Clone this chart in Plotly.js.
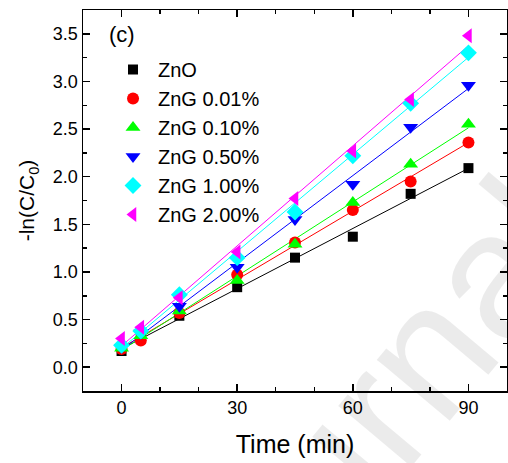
<!DOCTYPE html>
<html>
<head>
<meta charset="utf-8">
<script src="https://cdn.plot.ly/plotly-3.0.1.min.js"></script>
<style>
html,body{margin:0;padding:0;background:#fff;}
#chart{width:508px;height:463px;}
</style>
</head>
<body>
<div id="chart"></div>
<script>
const time = [0, 5, 15, 30, 45, 60, 75, 90];
const seriesNames = ["ZnO", "ZnG 0.01%", "ZnG 0.10%", "ZnG 0.50%", "ZnG 1.00%", "ZnG 2.00%"];
const znO    = [0.17, 0.30, 0.54, 0.84, 1.15, 1.37, 1.82, 2.09];
const znG001 = [0.19, 0.28, 0.57, 0.97, 1.31, 1.65, 1.95, 2.36];
const znG010 = [0.20, 0.33, 0.59, 0.91, 1.29, 1.73, 2.13, 2.55];
const znG050 = [0.21, 0.36, 0.64, 1.05, 1.55, 1.92, 2.52, 2.96];
const znG100 = [0.23, 0.38, 0.76, 1.15, 1.63, 2.22, 2.77, 3.30];
const znG200 = [0.30, 0.42, 0.73, 1.21, 1.77, 2.27, 2.81, 3.48];
const seriesValues = [znO, znG001, znG010, znG050, znG100, znG200];
const colors = ["#000000", "#FF0000", "#00FF00", "#0000FF", "#00FFFF", "#FF00FF"];
const symbols = ["square", "circle", "triangle-up", "triangle-down", "diamond", "triangle-left"];
const sizes = [10, 12, 13, 13, 13, 13];

function fit(xs, ys) {
  const n = xs.length;
  let sx = 0, sy = 0, sxx = 0, sxy = 0;
  for (let i = 0; i < n; i++) { sx += xs[i]; sy += ys[i]; sxx += xs[i]*xs[i]; sxy += xs[i]*ys[i]; }
  const b = (n*sxy - sx*sy) / (n*sxx - sx*sx);
  const a = (sy - b*sx) / n;
  return [a, b];
}

const traces = [];
seriesValues.forEach((ys, i) => {
  const [a, b] = fit(time, ys);
  const x0 = time[0], x1 = time[time.length-1];
  traces.push({
    x: [x0, x1], y: [a + b*x0, a + b*x1], mode: "lines", showlegend: false,
    line: {color: colors[i], width: 1}, hoverinfo: "skip"
  });
});
seriesValues.forEach((ys, i) => {
  traces.push({
    x: time, y: ys, mode: "markers", name: seriesNames[i],
    marker: {symbol: symbols[i], color: colors[i], size: sizes[i]}
  });
});

const FF = "Liberation Sans, Arial, sans-serif";
const axisFont = {family: FF, size: 18, color: "#000"};
const layout = {
  width: 508, height: 463,
  margin: {l: 83, r: 1, t: 10, b: 72},
  paper_bgcolor: "#fff", plot_bgcolor: "#fff",
  font: {family: FF, color: "#000"},
  xaxis: {
    range: [-10, 100], tick0: 0, dtick: 30, ticks: "inside", ticklen: 7, tickwidth: 1.5,
    tickcolor: "#000", showline: true, linewidth: 1.5, linecolor: "#000", mirror: "ticks",
    showgrid: false, zeroline: false, tickfont: axisFont,
    minor: {dtick: 10, ticks: "inside", ticklen: 4, tickwidth: 1.5, tickcolor: "#000", showgrid: false},
    title: {text: "Time (min)", font: {family: FF, size: 25, color: "#000"}, standoff: 18},
    automargin: false
  },
  yaxis: {
    range: [-0.25, 3.75], tick0: 0, dtick: 0.5, tickformat: ".1f", ticks: "inside", ticklen: 7, tickwidth: 1.5,
    tickcolor: "#000", showline: true, linewidth: 1.5, linecolor: "#000", mirror: "ticks",
    showgrid: false, zeroline: false, tickfont: axisFont,
    minor: {dtick: 0.25, ticks: "inside", ticklen: 4, tickwidth: 1.5, tickcolor: "#000", showgrid: false},
    title: {text: "-ln(C/C<sub>0</sub>)", font: {family: FF, size: 21, color: "#000"}, standoff: 12},
    automargin: false
  },
  legend: {
    x: 0.059, y: 0.895, xanchor: "left", yanchor: "top",
    bgcolor: "rgba(0,0,0,0)", borderwidth: 0,
    font: {family: FF, size: 20, color: "#000"},
    itemwidth: 40
  },
  annotations: [
    {
      text: "(c)", xref: "paper", yref: "paper", x: 0.057, y: 0.935, xanchor: "left", yanchor: "middle",
      showarrow: false, font: {family: FF, size: 22, color: "#000"}
    },
    {
      text: "Journal", xref: "paper", yref: "paper", x: 0.65, y: -0.11, xanchor: "center", yanchor: "middle",
      textangle: -50, showarrow: false, font: {family: FF, size: 180, color: "rgba(0,0,0,0.08)"}
    }
  ],
  showlegend: true
};
Plotly.newPlot("chart", traces, layout, {displayModeBar: false, staticPlot: true});
</script>
</body>
</html>
